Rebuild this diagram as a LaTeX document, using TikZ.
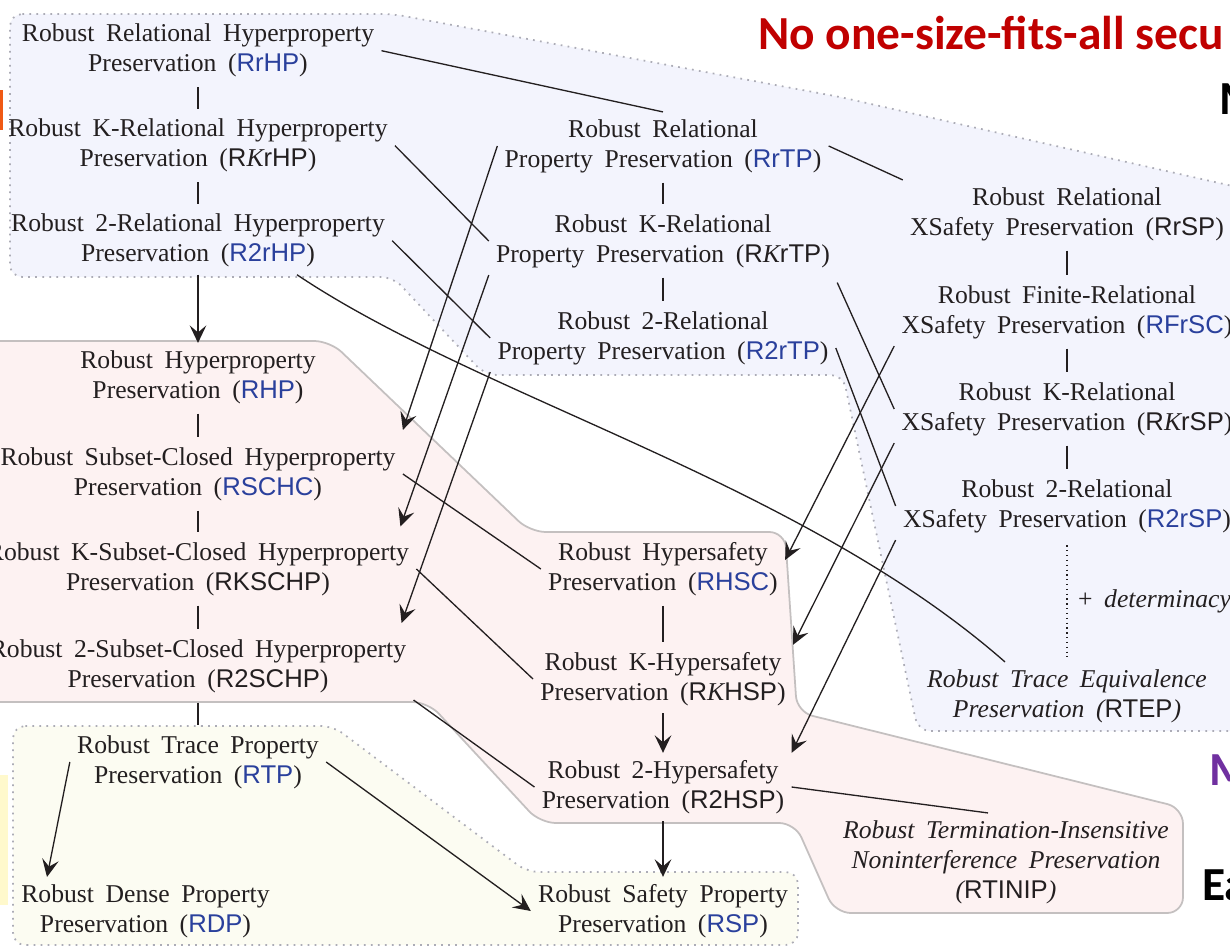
\documentclass[tikz,border=0pt]{standalone}
\usepackage{fontspec}
\setmainfont{Liberation Serif}[WordSpace=1.8]
\setsansfont{Liberation Sans}
\newfontfamily\slidefont{Carlito}
\usetikzlibrary{arrows.meta}
\definecolor{txtgray}{RGB}{35,31,32}
\definecolor{acroblue}{RGB}{42,64,156}
\definecolor{hyperblue}{RGB}{243,244,253}
\definecolor{hyperpink}{RGB}{253,242,242}
\definecolor{traceyellow}{RGB}{252,252,242}
\definecolor{edgegray}{RGB}{172,172,182}
\definecolor{pinkedge}{RGB}{196,192,192}
\definecolor{slidered}{RGB}{192,0,0}
\definecolor{slidepurple}{RGB}{112,48,160}
\definecolor{slideyellow}{RGB}{255,249,204}
\definecolor{slideorange}{RGB}{240,90,20}
\newcommand\acr[1]{\textcolor{acroblue}{\textsf{#1}}}
\newcommand\acrb[1]{\textsf{#1}}
\newcommand\Kit{{\rmfamily\itshape K}}
\begin{document}
\begin{tikzpicture}[x=0.02cm,y=-0.02cm,
	prop/.style={align=center,inner sep=4pt,text=txtgray,font=\fontsize{14.6}{17.1}\selectfont},
	italprop/.style={prop,font=\fontsize{14.6}{17.1}\selectfont\itshape},
	slide/.style={anchor=base west,inner sep=0pt,font=\slidefont\bfseries\fontsize{27}{30}\selectfont},
	link/.style={line width=.75pt,draw=txtgray},
	tie/.style={link,shorten <=1.5pt,shorten >=1.5pt},
	imp/.style={link,-{Stealth[length=10pt,width=9.5pt,inset=4pt]}},
	dotbox/.style={draw=edgegray,line width=1pt,dash pattern=on 1pt off 3pt,rounded corners=7pt}]
	\useasboundingbox (0,0) rectangle (1230,949);
	\clip (0,0) rectangle (1230,949);
	\path[dotbox,fill=hyperblue] (10,14) -- (393,14) -- (840,97) -- (1250,190) -- (1250,731) -- (918,731) -- (843,375) -- (485,375) -- (393,277) -- (10,277) -- cycle;
	\path[draw=pinkedge,line width=1pt,fill=hyperpink,rounded corners=9pt] (-20,341) -- (330,341) -- (530,532) -- (785,532) -- (797,712) -- (1183,808) -- (1183,913) -- (835,913) -- (795,823) -- (540,823) -- (428,702) -- (-20,702) -- cycle;
	\path[dotbox,fill=traceyellow] (13,726) -- (333,726) -- (527,872) -- (798,872) -- (798,945) -- (13,945) -- cycle;
	\fill[slideyellow] (0,775) rectangle (8,905);
	\fill[slideorange] (0,90) rectangle (3,130);
	\node[slide,text=slidered] (title) at (758,50) {No one-size-fits-all secu};
	\node[slide,text=black] (mtop) at (1219,115) {M};
	\node[slide,text=slidepurple] (mmid) at (1209,785) {M};
	\node[slide,text=black] (ea) at (1202,900) {Ea};
	\node[prop] (RrHP) at (198,50.7) {Robust Relational Hyperproperty\\Preservation (\acr{RrHP})};
	\node[prop] (RKrHP) at (198,145.7) {Robust K-Relational Hyperproperty\\Preservation (\acrb{R\Kit rHP})};
	\node[prop] (R2rHP) at (198,240.7) {Robust 2-Relational Hyperproperty\\Preservation (\acr{R2rHP})};
	\node[prop] (RrTP) at (663,146) {Robust Relational\\Property Preservation (\acr{RrTP})};
	\node[prop] (RKrTP) at (663,241) {Robust K-Relational\\Property Preservation (\acrb{R\Kit rTP})};
	\node[prop] (R2rTP) at (663,338) {Robust 2-Relational\\Property Preservation (\acr{R2rTP})};
	\node[prop] (RrSP) at (1067,214) {Robust Relational\\XSafety Preservation (\acrb{RrSP})};
	\node[prop] (RFrSC) at (1067,312) {Robust Finite-Relational\\XSafety Preservation (\acr{RFrSC})};
	\node[prop] (RKrSP) at (1067,409) {Robust K-Relational\\XSafety Preservation (\acrb{R\Kit rSP})};
	\node[prop] (R2rSP) at (1067,506) {Robust 2-Relational\\XSafety Preservation (\acr{R2rSP})};
	\node[italprop] (RTEP) at (1067,696) {Robust Trace Equivalence\\Preservation (\acrb{\upshape RTEP})};
	\node[prop] (RHP) at (198,377) {Robust Hyperproperty\\Preservation (\acr{RHP})};
	\node[prop] (RSCHC) at (198,474) {Robust Subset-Closed Hyperproperty\\Preservation (\acr{RSCHC})};
	\node[prop] (RKSCHP) at (198,569) {Robust K-Subset-Closed Hyperproperty\\Preservation (\acrb{RKSCHP})};
	\node[prop] (R2SCHP) at (198,666) {Robust 2-Subset-Closed Hyperproperty\\Preservation (\acrb{R2SCHP})};
	\node[prop] (RHSC) at (663,569) {Robust Hypersafety\\Preservation (\acr{RHSC})};
	\node[prop] (RKHSP) at (663,679) {Robust K-Hypersafety\\Preservation (\acrb{R\Kit HSP})};
	\node[prop] (R2HSP) at (663,787) {Robust 2-Hypersafety\\Preservation (\acrb{R2HSP})};
	\node[italprop] (RTINIP) at (1006,862) {Robust Termination-Insensitive\\Noninterference Preservation\\(\acrb{\upshape RTINIP})};
	\node[prop] (RTP) at (198,762) {Robust Trace Property\\Preservation (\acr{RTP})};
	\node[prop] (RDP) at (145.5,911) {Robust Dense Property\\Preservation (\acr{RDP})};
	\node[prop] (RSP) at (663,911) {Robust Safety Property\\Preservation (\acr{RSP})};
	\foreach \a/\b in {RrHP/RKrHP,RKrHP/R2rHP,RrTP/RKrTP,RKrTP/R2rTP,RrSP/RFrSC,RFrSC/RKrSP,RKrSP/R2rSP,RHP/RSCHC,RSCHC/RKSCHP,RKSCHP/R2SCHP,R2SCHP/RTP,RHSC/RKHSP}
		\draw[tie] (\a.south) -- (\b.north);
	\foreach \a/\b in {R2rHP/RHP,RKHSP/R2HSP,R2HSP/RSP}
		\draw[imp] (\a.south) -- (\b.north);
	\draw[link] (RrHP.east) -- (RrTP.north);
	\draw[link] (RKrHP.east) -- (RKrTP.west);
	\draw[link] (R2rHP.east) -- (R2rTP.west);
	\draw[link] (RrTP.east) -- (RrSP.north west);
	\draw[link] ([yshift=-.15cm]RKrTP.south east) -- (RKrSP.west);
	\draw[link] ([yshift=-.2cm]R2rTP.east) -- (R2rSP.west);
	\draw[link] (RSCHC.east) -- (RHSC.west);
	\draw[link] (RKSCHP.east) -- (RKHSP.west);
	\draw[link] (R2SCHP.south east) -- (R2HSP.west);
	\draw[link] (R2HSP.east) -- ([xshift=-.36cm]RTINIP.north);
	\draw[link] ([xshift=1.98cm]R2rHP.south) .. controls +(183,123) and +(-205,-180) .. ([xshift=-1.24cm]RTEP.north);
	\draw[imp] (RrTP.west) -- ([yshift=.2cm]RSCHC.north east);
	\draw[imp] (RKrTP.south west) -- ([shift={(-.32cm,.17cm)}]RKSCHP.north east);
	\draw[imp] (R2rTP.south west) -- ([shift={(-.24cm,.18cm)}]R2SCHP.north east);
	\draw[imp] (RFrSC.south west) -- ([yshift=.18cm]RHSC.east);
	\draw[imp] (RKrSP.south west) -- (RKHSP.north east);
	\draw[imp] (R2rSP.south west) -- (R2HSP.north east);
	\draw[imp] (RTP.west) -- ([xshift=.66cm]RDP.north west);
	\draw[imp] (RTP.east) -- (RSP.west);
	\draw[link,dotted,shorten <=3pt,shorten >=3pt] (R2rSP.south) -- (RTEP.north) node[midway,right=2pt,prop] (det) {+ \textit{determinacy}};
\end{tikzpicture}
\end{document}
